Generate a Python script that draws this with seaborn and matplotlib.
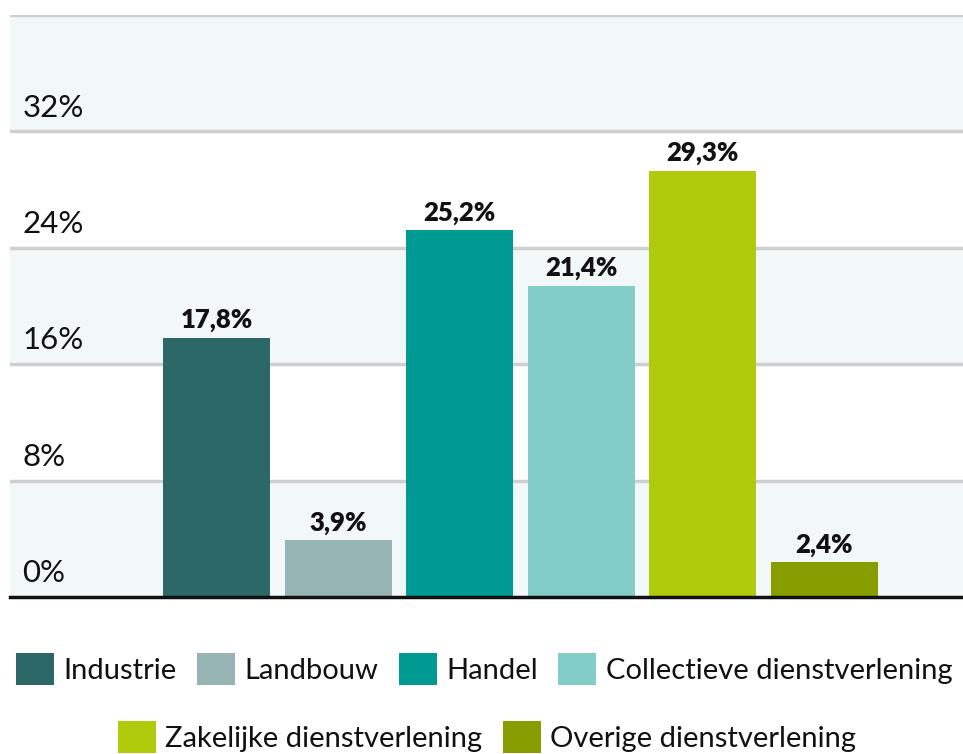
import matplotlib
matplotlib.use("Agg")
import matplotlib.pyplot as plt
import matplotlib.patches as mpatches
import seaborn as sns
import pandas as pd

# Chart data
categories = ["Industrie", "Landbouw", "Handel", "Collectieve dienstverlening",
              "Zakelijke dienstverlening", "Overige dienstverlening"]
values = [17.8, 3.9, 25.2, 21.4, 29.3, 2.4]
colors = ["#2d6869", "#97b4b5", "#009a93", "#82cdc8", "#b0cb0b", "#889e00"]
y_ticks = [0, 8, 16, 24, 32]
y_tick_labels = ["0%", "8%", "16%", "24%", "32%"]

sns.set_theme(style="white")
plt.rcParams["font.family"] = ["Lato", "DejaVu Sans"]

df = pd.DataFrame({"sector": categories, "share": values})
palette = dict(zip(categories, colors))

fig = plt.figure(figsize=(9.63, 7.54), dpi=100)
ax = fig.add_axes([10 / 963, 1 - 597 / 754, 953 / 963, 582 / 754])

sns.barplot(data=df, x="sector", y="share", hue="sector", palette=palette,
            width=0.88, legend=False, saturation=1, linewidth=0, ax=ax, zorder=3)

ax.set_xlim(-1.70, 6.14)
ax.set_ylim(0, 40)

# alternating bands and grid lines
for lo in [0, 16, 32]:
    ax.axhspan(lo, lo + 8, color="#f2f8f8", zorder=0, lw=0)
for g in [8, 16, 24, 32, 40]:
    ax.axhline(g, color="#cfcfcf", lw=2.5, zorder=1)

# y tick labels drawn inside the plot, above each grid line
ax.set_yticks([])
ax.set_xticks([])
for t, lab in zip(y_ticks, y_tick_labels):
    ax.annotate(lab, xy=(0, t), xycoords=("axes fraction", "data"),
                xytext=(9, 7), textcoords="offset points",
                ha="left", va="bottom", fontsize=22.5, color="#111111")

for c in ax.containers:
    ax.bar_label(c, labels=[f"{v:.1f}%".replace(".", ",") for v in c.datavalues],
                 padding=4, fontsize=18.5, fontweight="heavy", color="#111111")

ax.set_xlabel("")
ax.set_ylabel("")
for s in ["top", "right", "left"]:
    ax.spines[s].set_visible(False)
ax.spines["bottom"].set_color("#111111")
ax.spines["bottom"].set_linewidth(2.5)
ax.spines["bottom"].set_zorder(5)

# legend in two centred rows
handles = [mpatches.Patch(color=c, label=l, lw=0) for l, c in zip(categories, colors)]
leg_kw = dict(frameon=False, fontsize=21, handlelength=1.3, handleheight=1.3,
              handletextpad=0.33, columnspacing=0.7, borderaxespad=0, borderpad=0,
              labelcolor="#111111")
fig.legend(handles=handles[:4], loc="center", ncol=4,
           bbox_to_anchor=(484 / 963, 1 - 669 / 754), **leg_kw)
fig.legend(handles=handles[4:], loc="center", ncol=2,
           bbox_to_anchor=(487 / 963, 1 - 737 / 754), **leg_kw)

fig.savefig("out.png", dpi=100)
